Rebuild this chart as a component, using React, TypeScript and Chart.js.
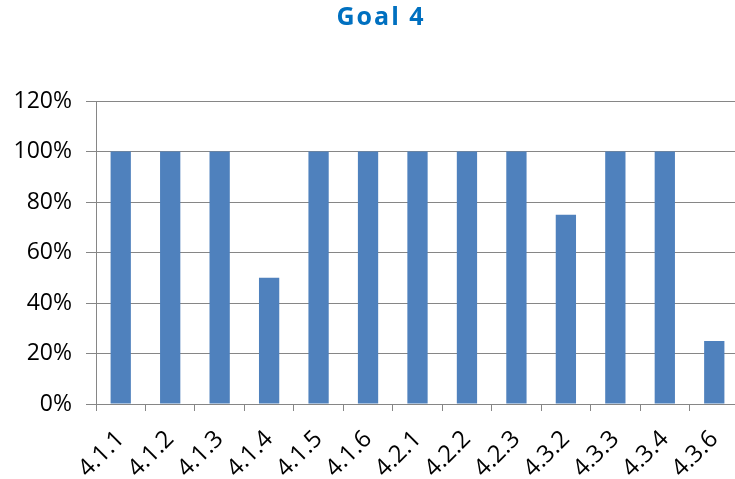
import React, { useEffect, useRef } from "react";
import { Chart, registerables } from "chart.js";

Chart.register(...registerables);

const categories = ["4.1.1", "4.1.2", "4.1.3", "4.1.4", "4.1.5", "4.1.6", "4.2.1", "4.2.2", "4.2.3", "4.3.2", "4.3.3", "4.3.4", "4.3.6"];
const values = [1, 1, 1, 0.5, 1, 1, 1, 1, 1, 0.75, 1, 1, 0.25];
const titleText = "Goal 4";

const titlePlugin = {
  id: "customTitle",
  afterDraw(chart: any) {
    const ctx = chart.ctx;
    ctx.save();
    ctx.font = "bold 25px 'Open Sans', Lato, sans-serif";
    try { ctx.letterSpacing = "2px"; } catch (e) {}
    ctx.fillStyle = "#0070C0";
    ctx.textAlign = "center";
    ctx.textBaseline = "middle";
    ctx.fillText(titleText, 381, 18);
    ctx.restore();
  },
};

export default function App() {
  const ref = useRef<HTMLCanvasElement>(null);
  useEffect(() => {
    document.body.style.margin = "0";
    document.body.style.overflow = "hidden";
    const yFont = { family: "'Open Sans', Lato, sans-serif", size: 23 };
    const xFont = { family: "'Open Sans', Lato, sans-serif", size: 24 };
    const chart = new Chart(ref.current!, {
      type: "bar",
      data: {
        labels: categories,
        datasets: [
          {
            data: values,
            backgroundColor: "#4F81BD",
            borderWidth: 0,
            categoryPercentage: 1,
            barPercentage: 0.41,
          },
        ],
      },
      options: {
        animation: false,
        responsive: false,
        maintainAspectRatio: false,
        layout: { padding: { top: 101, right: 0, left: 0, bottom: 0 } },
        plugins: {
          legend: { display: false },
          title: { display: false },
          tooltip: { enabled: false },
        },
        scales: {
          x: {
            grid: {
              display: true,
              drawOnChartArea: false,
              drawTicks: true,
              tickLength: 7,
              color: "#868686",
              offset: true,
            },
            border: { display: true, color: "#868686", width: 1 },
            ticks: {
              font: xFont,
              color: "#000",
              minRotation: 45,
              maxRotation: 45,
              autoSkip: false,
              padding: 14,
            },
            afterFit(scale: any) {
              scale.height = 75;
              scale.paddingLeft = 0;
              scale.paddingRight = 0;
            },
          },
          y: {
            min: 0,
            max: 1.2,
            grid: {
              color: "#868686",
              tickLength: 10,
            },
            border: { display: true, color: "#868686", width: 1 },
            ticks: {
              stepSize: 0.2,
              font: yFont,
              color: "#000",
              padding: 14,
              callback: (v: any) => Math.round(Number(v) * 100) + "%",
            },
            afterFit(scale: any) {
              scale.width = 96;
              scale.paddingTop = 0;
              scale.paddingBottom = 0;
            },
          },
        },
      },
      plugins: [titlePlugin],
    });
    return () => chart.destroy();
  }, []);
  return (
    <div style={{ width: 735, height: 479, overflow: "hidden" }}>
      <canvas ref={ref} width={739} height={479} style={{ display: "block", width: 739, height: 479 }} />
    </div>
  );
}
